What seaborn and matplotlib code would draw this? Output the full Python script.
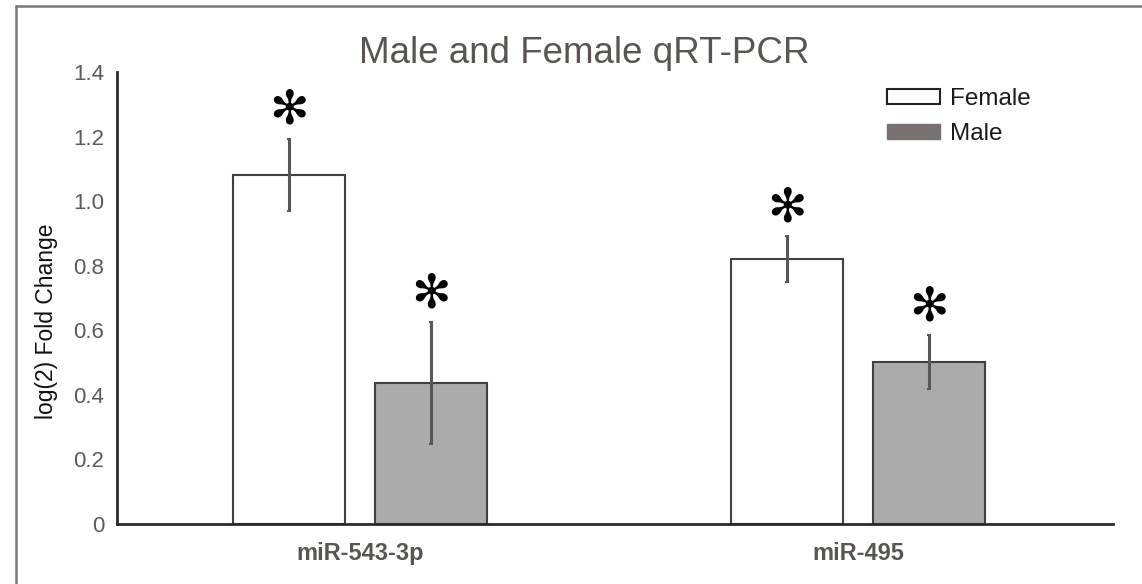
import numpy as np
import pandas as pd
import matplotlib
matplotlib.use("Agg")
import matplotlib.pyplot as plt
from matplotlib.lines import Line2D
from matplotlib.patches import Patch
import seaborn as sns

# ---- data ----
genes = ["miR-543-3p", "miR-495"]
groups = ["Female", "Male"]
female_vals = [1.081, 0.821]
male_vals = [0.437, 0.502]
female_err = [0.113, 0.071]
male_err = [0.189, 0.083]
yticks = [0, 0.2, 0.4, 0.6, 0.8, 1.0, 1.2, 1.4]
ytick_labels = ["0", "0.2", "0.4", "0.6", "0.8", "1.0", "1.2", "1.4"]

df = pd.DataFrame({
    "gene": genes * 2,
    "sex": ["Female"] * 2 + ["Male"] * 2,
    "value": female_vals + male_vals,
    "err": female_err + male_err,
})

sns.set_theme(style="white")
plt.rcParams["font.family"] = ["Liberation Sans", "DejaVu Sans"]

fig = plt.figure(figsize=(11.42, 5.84), dpi=100)
fig.patch.set_facecolor("white")
ax = fig.add_axes([117 / 1142, 1 - 524 / 584, (1113 - 117) / 1142, (524 - 72) / 584])

face = {"Female": "#ffffff", "Male": "#ababab"}
sns.barplot(data=df, x="gene", y="value", hue="sex", order=genes, hue_order=groups,
            palette=face, width=0.57, gap=0.211, errorbar=None, legend=False,
            edgecolor="#3f3f3f", linewidth=1.5, ax=ax, zorder=2)

# error bars & asterisks from the bar patches
bars = [p for p in ax.patches]
vals = female_vals + male_vals
errs = female_err + male_err
for p, v, e in zip(bars, vals, errs):
    cx = p.get_x() + p.get_width() / 2
    ax.errorbar(cx, v, yerr=e, color="#5a5654", elinewidth=2.2, capsize=1.5,
                capthick=1.5, zorder=3)
    ax.text(cx, v + e + 0.085, "\u273B", ha="center", va="center",
            fontsize=34, color="black", family=["DejaVu Sans"], zorder=4)

ax.set_xlim(-0.488, 1.512)
ax.set_ylim(0, 1.4)
ax.set_yticks(yticks)
ax.set_yticklabels(ytick_labels, fontsize=16, color="#5f5a57")
ax.set_xticks([0, 1])
ax.set_xticklabels(genes, fontsize=17, fontweight="bold", color="#5a5552")
ax.tick_params(axis="y", direction="in", length=4, width=1.5, color="#222222", pad=9)
ax.tick_params(axis="x", length=0, pad=13)
ax.set_xlabel("")
ax.set_ylabel("log(2) Fold Change", fontsize=16.5, color="#111111")
ax.yaxis.set_label_coords(-0.059, 0.449)

for s in ["top", "right"]:
    ax.spines[s].set_visible(False)
for s in ["left", "bottom"]:
    ax.spines[s].set_color("#2a2a2a")
    ax.spines[s].set_linewidth(2)

fig.text(584 / 1142, 1 - 63 / 584, "Male and Female qRT-PCR", ha="center", va="baseline",
         fontsize=26.5, color="#5a5550")

handles = [Patch(facecolor="white", edgecolor="#222222", linewidth=1.5),
           Patch(facecolor="#767070", edgecolor="#767070")]
leg = fig.legend(handles, groups, loc="upper left",
                 bbox_to_anchor=(865 / 1142, 1 - 66 / 584), frameon=False,
                 fontsize=17.5, handlelength=2.2, handleheight=0.6,
                 handletextpad=0.4, labelspacing=0.55)
for t in leg.get_texts():
    t.set_color("#1a1a1a")

# outer frame (top & left)
fig.add_artist(Line2D([15.5 / 1142, 15.5 / 1142], [0, 1 - 5.5 / 584], color="#777777",
                      linewidth=1.8, transform=fig.transFigure))
fig.add_artist(Line2D([15.5 / 1142, 1], [1 - 5.5 / 584, 1 - 5.5 / 584], color="#777777",
                      linewidth=1.8, transform=fig.transFigure))

fig.savefig("out.png", dpi=100, facecolor="white")
